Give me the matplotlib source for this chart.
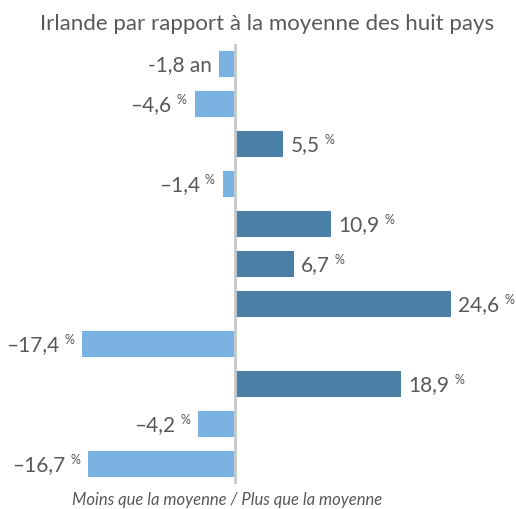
import matplotlib
matplotlib.use('Agg')
import matplotlib.pyplot as plt

# données (écarts Irlande vs moyenne des huit pays)
values = [-1.8, -4.6, 5.5, -1.4, 10.9, 6.7, 24.6, -17.4, 18.9, -4.2, -16.7]
labels = ['-1,8', '–4,6', '5,5', '–1,4', '10,9', '6,7', '24,6', '–17,4', '18,9', '–4,2', '–16,7']
units = ['an', '%', '%', '%', '%', '%', '%', '%', '%', '%', '%']

title = 'Irlande par rapport à la moyenne des huit pays'
xlabel = 'Moins que la moyenne / Plus que la moyenne'

NEG = '#7ab3e1'
POS = '#4a80a6'
TXT = '#595959'

plt.rcParams['font.family'] = ['Lato', 'DejaVu Sans']

fig = plt.figure(figsize=(5.16, 5.10), dpi=100)
ax = fig.add_axes([0, 1 - 485 / 510, 1, 440 / 510])

rows = list(range(len(values)))
colors = [POS if v > 0 else NEG for v in values]
ax.barh(rows, values, height=0.65, color=colors, zorder=2)
ax.axvline(0, color='#c8c8c8', lw=2, zorder=3)

px = 8.8  # pixels par point
ax.set_xlim(-235 / px, (516 - 235) / px)
ax.set_ylim(10.5, -0.5)
ax.axis('off')

fig.canvas.draw()
r = fig.canvas.get_renderer()
for i, (v, lab, u) in enumerate(zip(values, labels, units)):
    if u == 'an':
        # unité en taille normale
        ax.annotate(lab + ' an', xy=(v, i), xytext=(-7, 0), textcoords='offset pixels',
                    ha='right', va='center', fontsize=15, color=TXT)
        continue
    if v > 0:
        t = ax.annotate(lab, xy=(v, i), xytext=(7, 0), textcoords='offset pixels',
                        ha='left', va='center', fontsize=15, color=TXT)
        bb = t.get_window_extent(r)
        x0 = ax.transData.transform((v, i))[0]
        ax.annotate('%', xy=(v, i), xytext=(bb.x1 - x0 + 5, 5), textcoords='offset pixels',
                    ha='left', va='center', fontsize=9, color=TXT)
    else:
        p = ax.annotate('%', xy=(v, i), xytext=(-8, 5), textcoords='offset pixels',
                        ha='right', va='center', fontsize=9, color=TXT)
        w = p.get_window_extent(r).width
        ax.annotate(lab, xy=(v, i), xytext=(-8 - w - 5, 0), textcoords='offset pixels',
                    ha='right', va='center', fontsize=15, color=TXT)

fig.text(267 / 516, 1 - 24 / 510, title, ha='center', va='center', fontsize=16, color=TXT)
fig.text(227 / 516, 1 - 500 / 510, xlabel, ha='center', va='center', fontsize=12,
         style='italic', color=TXT)

fig.savefig('out.png', dpi=100)
